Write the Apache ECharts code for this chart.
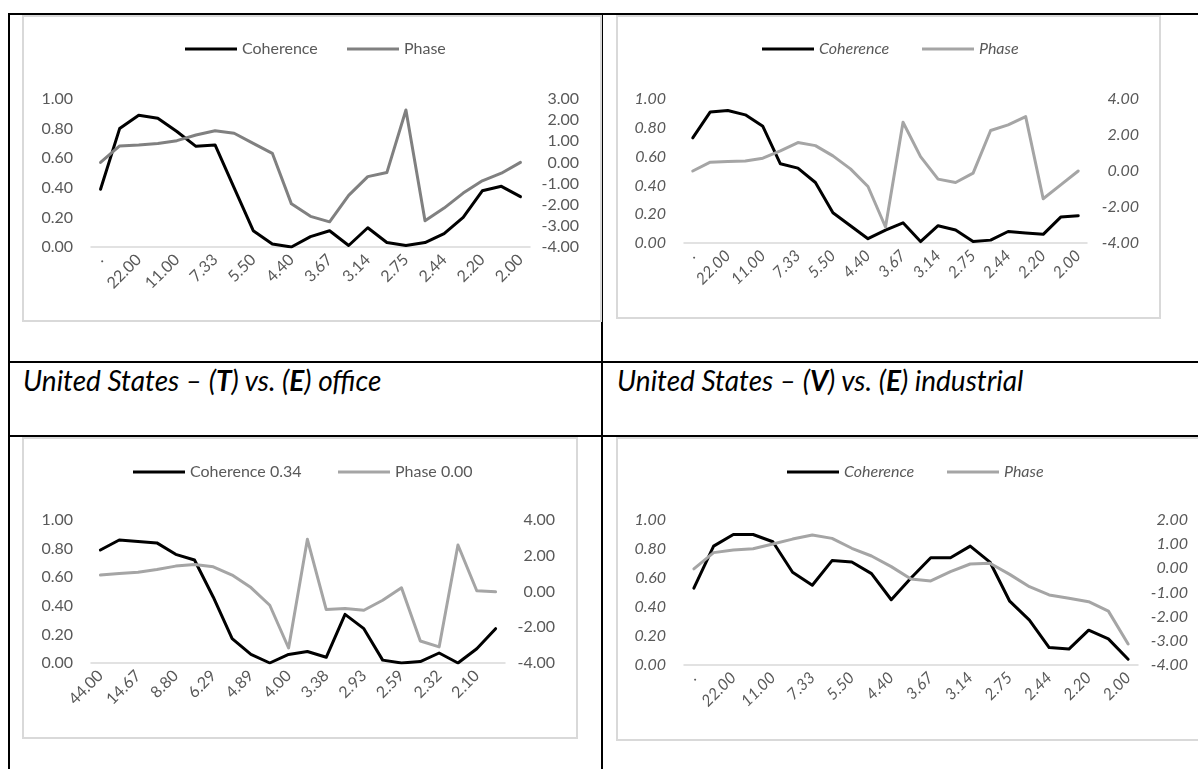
<!DOCTYPE html>
<html>
<head>
<meta charset="utf-8">
<script src="https://cdn.jsdelivr.net/npm/echarts@6/dist/echarts.min.js"></script>
<style>
  html, body { margin:0; padding:0; background:#fff; }
  #page { position:relative; width:1198px; height:769px; overflow:hidden; background:#fff; }
  .ln { position:absolute; background:#000; }
  .box { position:absolute; border:2px solid #d9d9d9; box-sizing:border-box; background:#fff; overflow:hidden; }
  .chart { position:absolute; left:-2px; top:-2px; }
  .cap { position:absolute; font-family: Lato, "Open Sans", sans-serif; font-style:italic; font-size:28px; line-height:1.2; color:#000; white-space:nowrap; }
</style>
</head>
<body>
<div id="page">
  <div class="ln" style="left:8px;top:13px;width:1190px;height:2px"></div>
  <div class="ln" style="left:8px;top:13px;width:2px;height:756px"></div>
  <div class="ln" style="left:601px;top:13px;width:2px;height:756px"></div>
  <div class="ln" style="left:8px;top:361px;width:1190px;height:2px"></div>
  <div class="ln" style="left:8px;top:435px;width:1190px;height:2px"></div>

  <div class="box" style="left:22px;top:15px;width:580px;height:307px"><div class="chart" id="c1" style="width:580px;height:307px"></div></div>
  <div class="box" style="left:616px;top:15px;width:545px;height:304px"><div class="chart" id="c2" style="width:545px;height:304px"></div></div>
  <div class="box" style="left:22px;top:437px;width:556px;height:302px"><div class="chart" id="c3" style="width:556px;height:302px"></div></div>
  <div class="box" style="left:616px;top:437px;width:600px;height:304px"><div class="chart" id="c4" style="width:600px;height:304px"></div></div>

  <div class="cap" style="left:23px;top:364px">United States – (<b>T</b>) vs. (<b>E</b>) office</div>
  <div class="cap" style="left:617px;top:364px">United States – (<b>V</b>) vs. (<b>E</b>) industrial</div>
</div>
<script>
// ---- data ----
const catsFull = ['.', '44.00', '22.00', '14.67', '11.00', '8.80', '7.33', '6.29', '5.50', '4.89', '4.40', '4.00', '3.67', '3.38', '3.14', '2.93', '2.75', '2.59', '2.44', '2.32', '2.20', '2.10', '2.00'];
const catsNoDot = ['44.00', '22.00', '14.67', '11.00', '8.80', '7.33', '6.29', '5.50', '4.89', '4.40', '4.00', '3.67', '3.38', '3.14', '2.93', '2.75', '2.59', '2.44', '2.32', '2.20', '2.10', '2.00'];

const tlCoherence = [0.39, 0.80, 0.89, 0.87, 0.78, 0.68, 0.69, 0.40, 0.11, 0.02, 0.00, 0.07, 0.11, 0.01, 0.13, 0.03, 0.01, 0.03, 0.09, 0.20, 0.38, 0.41, 0.34];
const tlPhase = [0.00, 0.78, 0.82, 0.90, 1.03, 1.30, 1.50, 1.38, 0.90, 0.43, -1.96, -2.55, -2.81, -1.56, -0.67, -0.48, 2.48, -2.76, -2.16, -1.45, -0.87, -0.51, 0.00];

const trCoherence = [0.73, 0.91, 0.92, 0.89, 0.81, 0.55, 0.52, 0.42, 0.21, 0.12, 0.03, 0.09, 0.14, 0.01, 0.12, 0.09, 0.01, 0.02, 0.08, 0.07, 0.06, 0.18, 0.19];
const trPhase = [0.00, 0.49, 0.53, 0.55, 0.71, 1.12, 1.58, 1.41, 0.84, 0.12, -0.86, -3.11, 2.71, 0.80, -0.45, -0.64, -0.12, 2.25, 2.56, 3.02, -1.54, -0.77, 0.00];

const blCoherence = [0.79, 0.86, 0.85, 0.84, 0.76, 0.72, 0.46, 0.17, 0.06, 0.00, 0.06, 0.08, 0.04, 0.34, 0.24, 0.02, 0.00, 0.01, 0.07, 0.00, 0.10, 0.24];
const blPhase = [0.92, 1.01, 1.08, 1.23, 1.42, 1.51, 1.38, 0.92, 0.22, -0.77, -3.16, 2.92, -1.01, -0.95, -1.05, -0.49, 0.21, -2.77, -3.10, 2.60, 0.04, -0.02];

const brCoherence = [0.53, 0.82, 0.90, 0.90, 0.85, 0.64, 0.55, 0.72, 0.71, 0.63, 0.45, 0.60, 0.74, 0.74, 0.82, 0.71, 0.44, 0.31, 0.12, 0.11, 0.24, 0.18, 0.04];
const brPhase = [-0.02, 0.65, 0.76, 0.81, 1.01, 1.21, 1.38, 1.24, 0.83, 0.51, 0.07, -0.44, -0.52, -0.14, 0.18, 0.21, -0.25, -0.76, -1.10, -1.24, -1.38, -1.77, -3.13];

const namesPlain = ['Coherence', 'Phase'];
const namesBL = ['Coherence 0.34', 'Phase 0.00'];

// ---- rendering ----
const FONT = 'Lato, "Open Sans", sans-serif';
const TXT = '#595959';

function build(id, o) {
  const chart = echarts.init(document.getElementById(id), null, { renderer: 'canvas' });
  const fs = o.italic ? 'italic' : 'normal';
  const fmt = v => v.toFixed(2);
  const legendItem = (name, left) => ({
    data: [name], left: left, top: o.legTop, padding: 0,
    icon: 'rect', itemWidth: 52, itemHeight: 3, selectedMode: false,
    textStyle: { color: TXT, fontFamily: FONT, fontSize: 16, fontStyle: fs }
  });
  chart.setOption({
    animation: false,
    legend: [legendItem(o.names[0], o.legL1), legendItem(o.names[1], o.legL2)],
    grid: { left: o.grid[0], top: o.grid[1], width: o.grid[2], height: o.grid[3], containLabel: false, outerBoundsMode: 'none' },
    xAxis: {
      type: 'category', data: o.cats, boundaryGap: true,
      axisLine: { lineStyle: { color: '#d9d9d9', width: 1.5 } },
      axisTick: { show: false },
      axisLabel: { interval: 1, rotate: 45, margin: 10, color: TXT, fontFamily: FONT, fontSize: 16, fontStyle: fs }
    },
    yAxis: [
      { type: 'value', min: 0, max: 1, interval: 0.2,
        axisLine: { show: false }, axisTick: { show: false }, splitLine: { show: false },
        axisLabel: { formatter: fmt, margin: o.lm, color: TXT, fontFamily: FONT, fontSize: 16, fontStyle: fs } },
      { type: 'value', position: 'right', min: o.r[0], max: o.r[1], interval: o.r[2],
        axisLine: { show: false }, axisTick: { show: false }, splitLine: { show: false },
        axisLabel: { formatter: fmt, align: 'right', margin: o.rm, color: TXT, fontFamily: FONT, fontSize: 16, fontStyle: fs } }
    ],
    series: [
      { name: o.names[0], type: 'line', data: o.coh, yAxisIndex: 0, symbol: 'none', showSymbol: false,
        lineStyle: { color: '#000000', width: 3, cap: 'round', join: 'round' }, itemStyle: { color: '#000000' } },
      { name: o.names[1], type: 'line', data: o.pha, yAxisIndex: 1, symbol: 'none', showSymbol: false,
        lineStyle: { color: o.pc, width: 3, cap: 'round', join: 'round' }, itemStyle: { color: o.pc } }
    ]
  });
}

build('c1', { cats: catsFull, coh: tlCoherence, pha: tlPhase, names: namesPlain, pc: '#808080', italic: false,
  grid: [69, 84, 439, 148], r: [-4, 3, 1], lm: 18, rm: 49, legTop: 26, legL1: 163, legL2: 325 });
build('c2', { cats: catsFull, coh: trCoherence, pha: trPhase, names: namesPlain, pc: '#a5a5a5', italic: true,
  grid: [68, 84, 403, 144], r: [-4, 4, 2], lm: 18, rm: 52, legTop: 26, legL1: 146, legL2: 306 });
build('c3', { cats: catsNoDot, coh: blCoherence, pha: blPhase, names: namesBL, pc: '#a5a5a5', italic: false,
  grid: [69, 83, 414, 143], r: [-4, 4, 2], lm: 18, rm: 50, legTop: 27, legL1: 111, legL2: 316 });
build('c4', { cats: catsFull, coh: brCoherence, pha: brPhase, names: namesPlain, pc: '#a5a5a5', italic: true,
  grid: [68, 83, 454, 145], r: [-4, 2, 1], lm: 18, rm: 50, legTop: 27, legL1: 171, legL2: 331 });
</script>
</body>
</html>
